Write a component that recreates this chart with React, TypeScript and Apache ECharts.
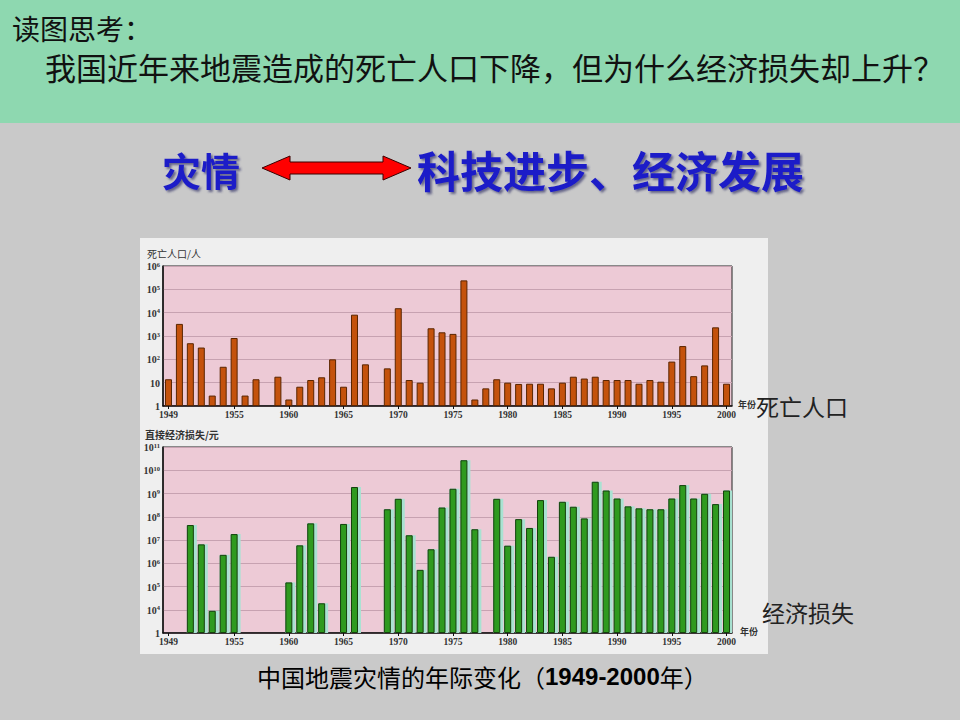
import React, { useEffect, useRef } from "react";
import * as echarts from "echarts";

const years = [
  "1949","1950","1951","1952","1953","1954","1955","1956","1957","1958",
  "1959","1960","1961","1962","1963","1964","1965","1966","1967","1968",
  "1969","1970","1971","1972","1973","1974","1975","1976","1977","1978",
  "1979","1980","1981","1982","1983","1984","1985","1986","1987","1988",
  "1989","1990","1991","1992","1993","1994","1995","1996","1997","1998",
  "1999","2000",
];

// 死亡人口（人）
const deaths: (number | null)[] = [
  14, 3300, 490, 320, 2.8, 48, 820, 2.8, 14, null,
  18, 1.9, 6.7, 13, 17, 100, 6.7, 8200, 61, null,
  41, 15500, 13, 10, 2140, 1440, 1230, 242000, 1.9, 5.7,
  14, 10, 8.8, 9, 9, 5.7, 10, 18, 15, 18,
  13, 13, 13, 9, 13, 11, 80, 370, 19, 55,
  2350, 9,
];

// 直接经济损失（元）
const losses: (number | null)[] = [
  null, null, 4.4e7, 6.5e6, 9e3, 2.3e6, 1.8e7, null, null, null,
  null, 1.5e5, 5.9e6, 5.2e7, 1.9e4, null, 4.9e7, 1.9e9, null, null,
  2.1e8, 5.9e8, 1.6e7, 5.2e5, 4e6, 2.5e8, 1.6e9, 2.7e10, 2.9e7, null,
  5.9e8, 5.7e6, 7.9e7, 3.3e7, 5.2e8, 1.9e6, 4.4e8, 2.7e8, 8.5e7, 3.2e9,
  1.35e9, 6.1e8, 2.8e8, 2.3e8, 2.1e8, 2.1e8, 6.1e8, 2.3e9, 6.1e8, 9.7e8,
  3.5e8, 1.35e9,
];

// broken axis: 1, 10^4, 10^5, ... 10^11
const lossTickLabels = ["1", "10|4", "10|5", "10|6", "10|7", "10|8", "10|9", "10|10", "10|11"];
const shownYears = ["1949", "1955", "1960", "1965", "1970", "1975", "1980", "1985", "1990", "1995", "2000"];

const serif = "'Liberation Serif', 'DejaVu Serif', serif";
const cjk = "'Noto Sans CJK SC', 'Noto Sans', sans-serif";

const showYear = (_i: number, v: string) => shownYears.includes(String(v));

const richSup = {
  n: { fontFamily: serif, fontSize: 10, fontWeight: "bold", color: "#333", verticalAlign: "bottom", lineHeight: 11 },
  e: { fontFamily: serif, fontSize: 6.5, fontWeight: "bold", color: "#333", verticalAlign: "top", lineHeight: 11 },
};

export default function App() {
  const ref = useRef<HTMLDivElement>(null);
  useEffect(() => {
    document.body.style.margin = "0";
    const chart = echarts.init(ref.current!, null, { renderer: "svg" });
    const xAxisCommon = {
      type: "category" as const,
      data: years,
      boundaryGap: true,
      axisLine: { lineStyle: { color: "#111", width: 1.5 } },
      axisTick: { show: true, alignWithLabel: true, interval: showYear, length: 3, lineStyle: { color: "#111" } },
      axisLabel: {
        interval: showYear,
        showMinLabel: true,
        showMaxLabel: true,
        fontFamily: serif,
        fontWeight: "bold",
        fontSize: 9.5,
        color: "#333",
        margin: 4,
      },
    };
    const lossPos = losses.map((v) => (v == null ? null : Math.log10(v) - 3));
    const option: any = {
      animation: false,
      backgroundColor: "#c9c9c9",
      grid: [
        { left: 163, right: 228, top: 266, height: 140, show: true, backgroundColor: "#edcad6", borderColor: "#222", borderWidth: 1 },
        { left: 163, right: 228, top: 447, height: 186, show: true, backgroundColor: "#edcad6", borderColor: "#222", borderWidth: 1 },
      ],
      xAxis: [
        { ...xAxisCommon, gridIndex: 0 },
        { ...xAxisCommon, gridIndex: 1 },
      ],
      yAxis: [
        {
          type: "log",
          logBase: 10,
          min: 1,
          max: 1e6,
          gridIndex: 0,
          axisLine: { show: true, lineStyle: { color: "#111", width: 1.5 } },
          axisTick: { show: false },
          splitLine: { show: true, lineStyle: { color: "#c7a2b1", width: 1 } },
          axisLabel: {
            margin: 3,
            formatter: (v: number) => {
              if (v <= 1) return "{n|1}";
              if (Math.round(v) === 10) return "{n|10}";
              return "{n|10}{e|" + Math.round(Math.log10(v)) + "}";
            },
            rich: richSup,
          },
        },
        {
          type: "value",
          min: 0,
          max: 8,
          interval: 1,
          gridIndex: 1,
          axisLine: { show: true, lineStyle: { color: "#111", width: 1.5 } },
          axisTick: { show: false },
          splitLine: { show: true, lineStyle: { color: "#c7a2b1", width: 1 } },
          axisLabel: {
            margin: 3,
            formatter: (v: number) => {
              const t = lossTickLabels[Math.round(v)] || "";
              if (!t.includes("|")) return "{n|" + t + "}";
              const [b, e] = t.split("|");
              return "{n|" + b + "}{e|" + e + "}";
            },
            rich: richSup,
          },
        },
      ],
      series: [
        {
          type: "bar",
          xAxisIndex: 0,
          yAxisIndex: 0,
          data: deaths,
          barWidth: 7,
          itemStyle: { color: "#c4520c", borderColor: "#5a2500", borderWidth: 1 },
        },
        {
          type: "bar",
          name: "halo",
          xAxisIndex: 1,
          yAxisIndex: 1,
          data: lossPos,
          barWidth: 10,
          barGap: "-100%",
          silent: true,
          itemStyle: { color: "#a9e2d2" },
        },
        {
          type: "bar",
          xAxisIndex: 1,
          yAxisIndex: 1,
          data: lossPos,
          barWidth: 7,
          barGap: "-100%",
          itemStyle: { color: "#2f9a1f", borderColor: "#153f0c", borderWidth: 1 },
        },
      ],
      graphic: [
        { type: "rect", z: -10, shape: { x: 0, y: 0, width: 960, height: 123 }, style: { fill: "#8ed8b0" } },
        { type: "rect", z: -10, shape: { x: 140, y: 238, width: 628, height: 416 }, style: { fill: "#efefef" } },
        {
          type: "text", z: 100,
          style: { x: 12, y: 28, text: "读图思考：", fill: "#111", font: "28px " + cjk, textVerticalAlign: "middle" },
        },
        {
          type: "text", z: 100,
          style: { x: 45, y: 66, text: "我国近年来地震造成的死亡人口下降，但为什么经济损失却上升？", fill: "#111", font: "31px " + cjk, textVerticalAlign: "middle" },
        },
        {
          type: "text", z: 100,
          style: {
            x: 162, y: 169, text: "灾情", fill: "#1a1ac8", font: "bold 39px " + cjk, textVerticalAlign: "middle",
            textShadowColor: "rgba(60,60,110,0.7)", textShadowOffsetX: 2, textShadowOffsetY: 2, textShadowBlur: 2,
          },
        },
        {
          type: "polygon", z: 100,
          shape: {
            points: [[262, 168], [290, 156], [290, 162], [383, 162], [383, 156], [411, 168], [383, 180], [383, 174], [290, 174], [290, 180]],
          },
          style: { fill: "#ff0000", stroke: "#3a0000", lineWidth: 1 },
        },
        {
          type: "text", z: 100,
          style: {
            x: 417, y: 169, text: "科技进步、经济发展", fill: "#1a1ac8", font: "bold 43px " + cjk, textVerticalAlign: "middle",
            textShadowColor: "rgba(60,60,110,0.7)", textShadowOffsetX: 2, textShadowOffsetY: 2, textShadowBlur: 2,
          },
        },
        { type: "text", z: 100, style: { x: 147, y: 253, text: "死亡人口/人", fill: "#333", font: "10px " + cjk, textVerticalAlign: "middle" } },
        { type: "text", z: 100, style: { x: 145, y: 434, text: "直接经济损失/元", fill: "#333", font: "bold 10px " + cjk, textVerticalAlign: "middle" } },
        { type: "text", z: 100, style: { x: 738, y: 404, text: "年份", fill: "#333", font: "bold 9px " + cjk, textVerticalAlign: "middle" } },
        { type: "text", z: 100, style: { x: 740, y: 631, text: "年份", fill: "#333", font: "bold 9px " + cjk, textVerticalAlign: "middle" } },
        { type: "text", z: 100, style: { x: 756, y: 406, text: "死亡人口", fill: "#222", font: "23px " + cjk, textVerticalAlign: "middle" } },
        { type: "text", z: 100, style: { x: 762, y: 612, text: "经济损失", fill: "#222", font: "23px " + cjk, textVerticalAlign: "middle" } },
        {
          type: "text", z: 100,
          style: {
            x: 257, y: 676,
            text: "{a|中国地震灾情的年际变化（}{b|1949-2000}{a|年）}",
            textVerticalAlign: "middle",
            rich: {
              a: { fontFamily: cjk, fontSize: 24, color: "#222" },
              b: { fontFamily: "'Liberation Sans', Arial, sans-serif", fontSize: 24, fontWeight: "bold", color: "#111" },
            },
          },
        },
      ],
    };
    chart.setOption(option);
    return () => chart.dispose();
  }, []);
  return <div ref={ref} style={{ position: "fixed", left: 0, top: 0, width: 960, height: 720 }} />;
}
